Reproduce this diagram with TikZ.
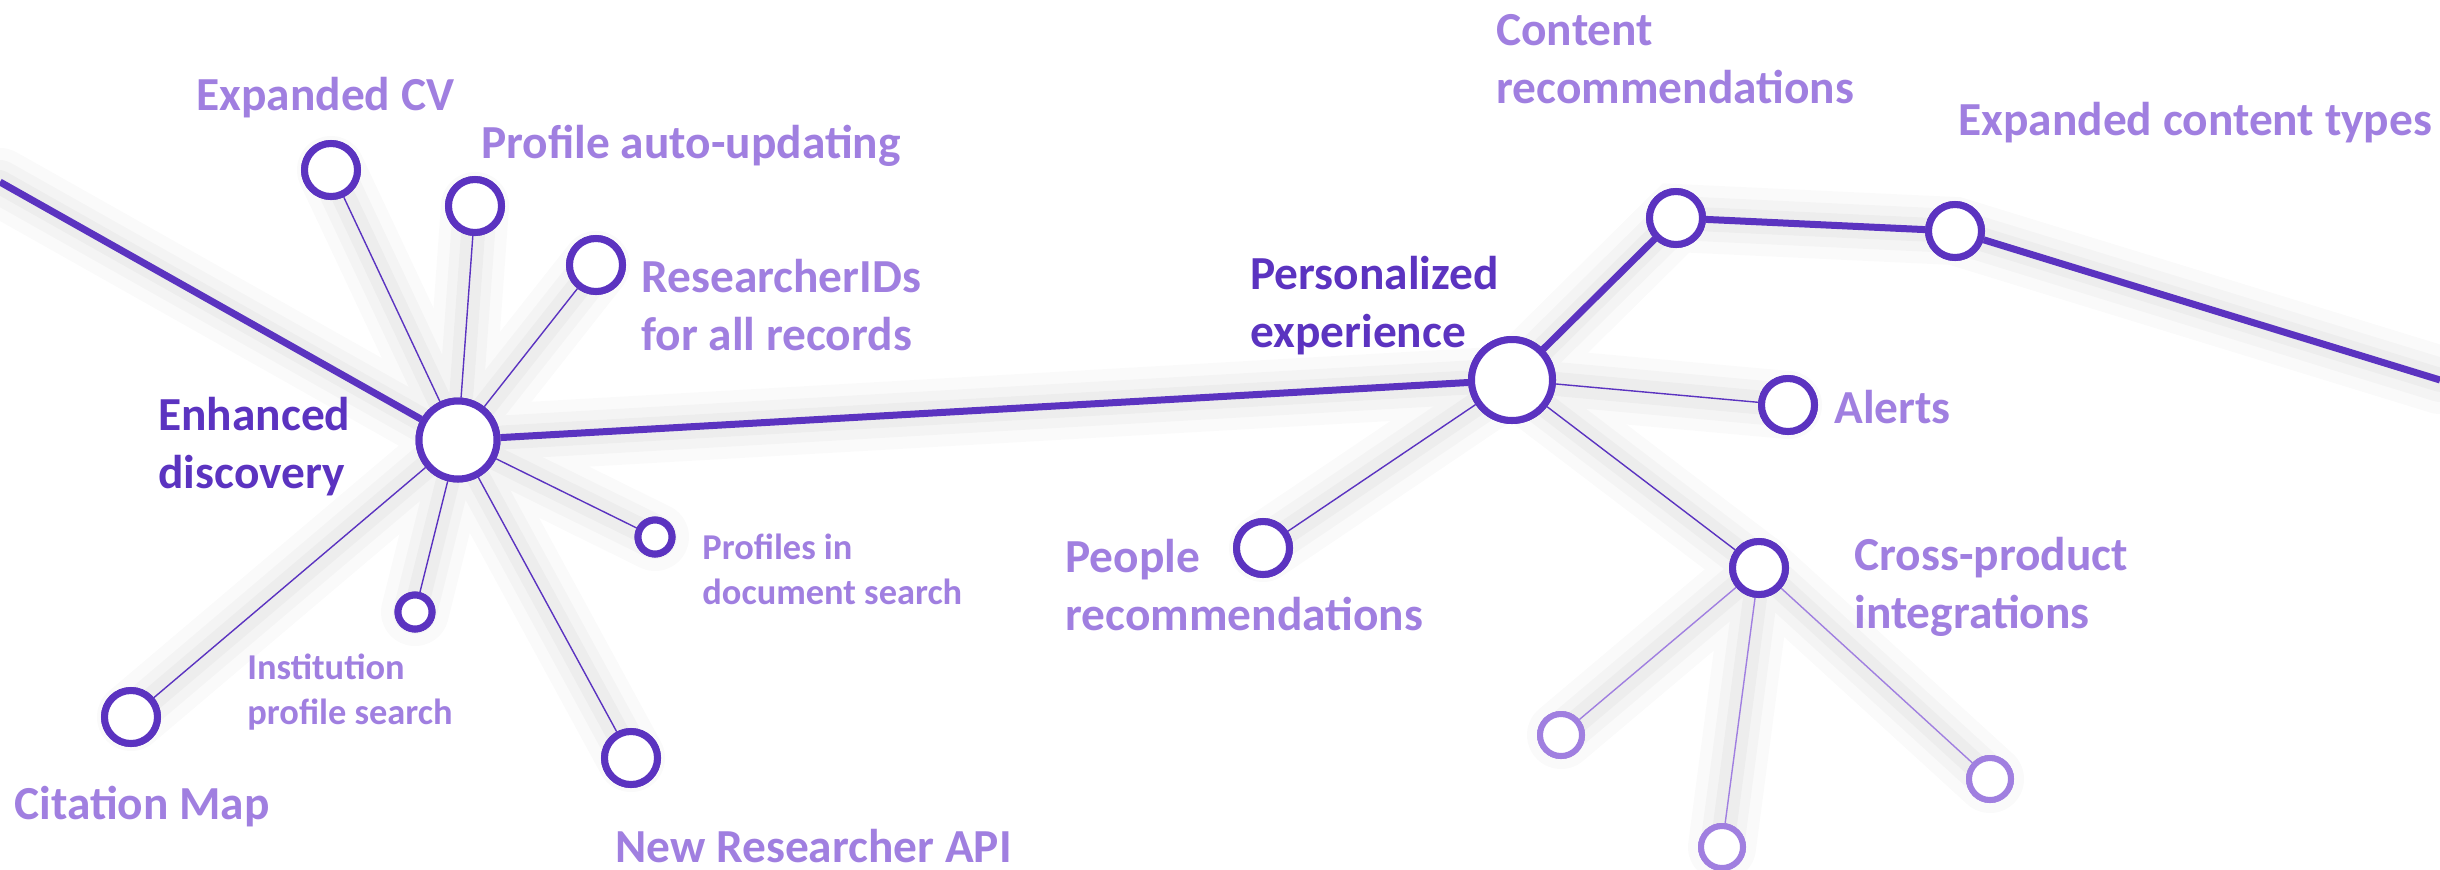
\documentclass[tikz,border=0pt]{standalone}
\usepackage{fontspec}
\setmainfont{Carlito}
\definecolor{dk}{HTML}{5B33C0}
\definecolor{lt}{HTML}{A07FE0}
\begin{document}
\begin{tikzpicture}[x=0.5pt,y=-0.5pt,
  ring/.style={circle,draw=dk,fill=white,line width=3.5pt,inner sep=0pt,minimum size=#1},
  lring/.style={circle,draw=lt,fill=white,line width=3pt,inner sep=0pt,minimum size=#1},
  thick line/.style={draw=dk,line width=3.5pt},
  thin line/.style={draw=dk,line width=0.7pt},
  lthin line/.style={draw=lt,line width=0.7pt},
  lab/.style={text=lt,font=\bfseries\fontsize{23.7}{28.8}\selectfont,anchor=base west,inner sep=0pt,align=left},
  slab/.style={text=lt,font=\bfseries\fontsize{18.2}{22.4}\selectfont,anchor=base west,inner sep=0pt,align=left},
  hlab/.style={lab,text=dk},
  shad/.style={draw=black,line width=#1,line cap=round}
]
\useasboundingbox (0,0) rectangle (2440,869);

% hub and leaf nodes
\node[ring=39pt] (ed) at (458,440) {};
\node[ring=40.5pt] (pe) at (1512,380) {};
\node[ring=26.5pt] (cr) at (1676,218) {};
\node[ring=26.5pt] (ect) at (1955,231) {};
\node[ring=26.5pt] (ecv) at (331,170) {};
\node[ring=26.5pt] (pau) at (475,206) {};
\node[ring=26.5pt] (rid) at (596,265) {};
\node[ring=17pt] (pds) at (655,537) {};
\node[ring=17pt] (ips) at (415,612) {};
\node[ring=26.5pt] (cm) at (131,717) {};
\node[ring=26.5pt] (nra) at (631,758) {};
\node[ring=26.5pt] (al) at (1788,405) {};
\node[ring=26.5pt] (pr) at (1263,548) {};
\node[ring=26.5pt] (cp) at (1759,568) {};
\node[lring=21pt] (l1) at (1561,735) {};
\node[lring=21pt] (l2) at (1722,847) {};
\node[lring=21pt] (l3) at (1990,779) {};
\coordinate (L) at (0,182);
\coordinate (R) at (2440,380);

% soft shadows
\foreach \w/\o in {34pt/0.018,22pt/0.022,12pt/0.028}{
  \begin{scope}[transparency group,opacity=\o,shift={(6,14)}]
    \draw[shad=\w] (L) -- (ed.center) -- (pe.center) -- (cr.center) -- (ect.center) -- (R);
    \foreach \n in {ecv,pau,rid,pds,ips,cm,nra}{\draw[shad=\w] (ed.center) -- (\n.center);}
    \foreach \n in {al,pr,cp}{\draw[shad=\w] (pe.center) -- (\n.center);}
    \foreach \n in {l1,l2,l3}{\draw[shad=\w] (cp.center) -- (\n.center);}
  \end{scope}
}

% connectors
\draw[thick line] (L) -- (ed);
\draw[thick line] (ed) -- (pe);
\draw[thick line] (pe) -- (cr);
\draw[thick line] (cr) -- (ect);
\draw[thick line] (ect) -- (R);
\foreach \n in {ecv,pau,rid,pds,ips,cm,nra}{\draw[thin line] (ed) -- (\n);}
\foreach \n in {al,pr,cp}{\draw[thin line] (pe) -- (\n);}
\foreach \n in {l1,l2,l3}{\draw[lthin line] (cp) -- (\n);}

% redraw rings on top
\foreach \n/\s in {ed/39pt,pe/40.5pt,cr/26.5pt,ect/26.5pt,ecv/26.5pt,pau/26.5pt,rid/26.5pt,pds/17pt,ips/17pt,cm/26.5pt,nra/26.5pt,al/26.5pt,pr/26.5pt,cp/26.5pt}{
  \node[ring=\s] at (\n) {};
}
\foreach \n in {l1,l2,l3}{\node[lring=21pt] at (\n) {};}

% labels (anchor = baseline of last line)
\node[hlab] (tED) at (158,488) {Enhanced\\discovery};
\node[hlab] (tPE) at (1250,347) {Personalized\\experience};
\node[lab] (tECV) at (196,110) {Expanded CV};
\node[lab] (tPAU) at (481,158) {Profile auto-updating};
\node[lab] (tRID) at (641,350) {ResearcherIDs\\for all records};
\node[slab] (tPDS) at (702,604) {Profiles in\\document search};
\node[slab] (tIPS) at (247,724) {Institution\\profile search};
\node[lab] (tCM) at (14,819) {Citation Map};
\node[lab] (tNRA) at (615,862) {New Researcher API};
\node[lab] (tCR) at (1496,103) {Content\\recommendations};
\node[lab] (tECT) at (1958,135) {Expanded content types};
\node[lab] (tAL) at (1834,423) {Alerts};
\node[lab] (tPR) at (1065,630) {People\\recommendations};
\node[lab] (tCP) at (1854,628) {Cross-product\\integrations};
\end{tikzpicture}
\end{document}
